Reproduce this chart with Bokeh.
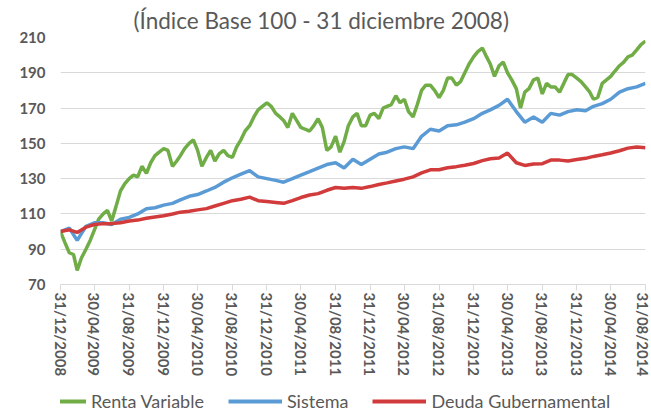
import pandas as pd
from bokeh.plotting import figure
from bokeh.layouts import column
from bokeh.models import (FixedTicker, DatetimeTickFormatter, Legend, LegendItem,
                          Range1d)
from bokeh.embed import file_html
from bokeh.resources import INLINE

# ---------------- data ----------------
base_date = "2008-12-31"
end_date = "2014-08-31"
subtitle = "(Índice Base 100 - 31 diciembre 2008)"

tick_dates = ["2008-12-31", "2009-04-30", "2009-08-31", "2009-12-31",
              "2010-04-30", "2010-08-31", "2010-12-31", "2011-04-30",
              "2011-08-31", "2011-12-31", "2012-04-30", "2012-08-31",
              "2012-12-31", "2013-04-30", "2013-08-31", "2013-12-31",
              "2014-04-30", "2014-08-31"]
y_ticks = [70, 90, 110, 130, 150, 170, 190, 210]

# Renta Variable: observations on the 15th and last day of each month
renta_variable = [100, 94, 88, 87, 78, 85, 90, 95, 101, 107, 110, 112, 106, 114,
                  123, 127, 130, 132, 131, 137, 133, 139, 143, 145, 147, 146, 137,
                  140, 143, 147, 150, 152, 146, 137, 142, 146, 140, 144, 146, 143,
                  142, 148, 152, 157, 160, 165, 169, 171, 173, 171, 167, 165, 163,
                  159, 167, 163, 159, 158, 157, 160, 164, 159, 146, 148, 154, 145,
                  151, 160, 165, 167, 160, 160, 166, 167, 164, 170, 171, 172, 177,
                  173, 175, 168, 165, 172, 180, 183, 183, 180, 176, 180, 187, 187,
                  183, 185, 190, 195, 199, 202, 204, 199, 195, 188, 194, 196, 190,
                  186, 181, 170, 179, 181, 186, 187, 178, 184, 182, 182, 179, 184,
                  189, 189, 187, 185, 182, 179, 175, 176, 184, 186, 188, 191, 194,
                  196, 199, 200, 203, 206, 208]

# Sistema and Deuda Gubernamental: month-end observations
sistema = [100, 102, 95, 103, 105, 105, 104, 107, 108, 110, 113, 113.5, 115, 116,
           118, 120, 121, 123, 125, 128, 130.5, 132.5, 134.5, 131, 130, 129, 128,
           130, 132, 134, 136, 138, 139, 136, 141, 138, 141, 144, 145, 147, 148,
           147, 154, 158, 157, 160, 160.5, 162, 164, 167, 169, 171.5, 175, 168,
           162, 165, 162, 167, 166, 168, 169, 168.5, 171, 172.5, 175, 179, 181,
           182, 184]

deuda_gubernamental = [100, 101, 99.5, 102.5, 104, 104.5, 104.5, 105, 106, 106.5,
                       107.5, 108.3, 109, 110, 111, 111.5, 112.3, 113, 114.5, 116,
                       117.5, 118.3, 119.5, 117.5, 117, 116.5, 116, 117.5, 119.3,
                       120.7, 121.5, 123.4, 125, 124.5, 125, 124.5, 125.5, 126.7,
                       127.6, 128.7, 129.7, 131, 133.3, 135, 135, 136.2, 136.8,
                       137.6, 138.6, 140.2, 141.3, 141.7, 144.5, 139, 137.5, 138.3,
                       138.5, 140.5, 140.5, 140, 140.8, 141.5, 142.6, 143.5, 144.5,
                       145.8, 147.3, 147.9, 147.5]

series_names = ["Renta Variable", "Sistema", "Deuda Gubernamental"]
colors = ["#70AD47", "#5B9BD5", "#D13B3B"]

# ---------------- dates ----------------
start = pd.Timestamp(base_date)
month_ends = [start]
half_dates = [start]
cur = start
while cur < pd.Timestamp(end_date):
    first = cur + pd.Timedelta(days=1)
    mid = first + pd.Timedelta(days=14)
    me = first + pd.offsets.MonthEnd(0)
    half_dates.append(mid)
    half_dates.append(me)
    month_ends.append(me)
    cur = me

# ---------------- main figure ----------------
p = figure(width=651, height=390, x_axis_type="datetime",
           output_backend="svg", toolbar_location=None,
           x_range=Range1d(pd.Timestamp(base_date), pd.Timestamp(end_date)),
           y_range=Range1d(70, 210),
           min_border_left=60, min_border_right=6,
           min_border_top=35, min_border_bottom=106)
p.outline_line_color = None
p.background_fill_color = "white"
p.border_fill_color = "white"

p.title.text = subtitle
p.title.align = "left"
p.title.offset = 73
p.title.standoff = 8
p.title.text_font = "Lato"
p.title.text_font_size = "22.5px"
p.title.text_font_style = "normal"
p.title.text_color = "#595959"

p.xgrid.visible = False
p.ygrid.grid_line_color = "#D9D9D9"
p.ygrid.grid_line_width = 1

line_kw = dict(line_width=3.5)
r1 = p.line(half_dates, renta_variable, line_color=colors[0], **line_kw)
r2 = p.line(month_ends, sistema, line_color=colors[1], **line_kw)
r3 = p.line(month_ends, deuda_gubernamental, line_color=colors[2], **line_kw)

# y axis
p.yaxis.ticker = FixedTicker(ticks=y_ticks)
p.yaxis.axis_line_color = None
p.yaxis.major_tick_line_color = None
p.yaxis.minor_tick_line_color = None
p.yaxis.major_label_text_font = "Lato"
p.yaxis.major_label_text_font_size = "15px"
p.yaxis.major_label_text_font_style = "bold"
p.yaxis.major_label_text_color = "#595959"
p.yaxis.major_label_standoff = 9

# x axis
tick_ms = [pd.Timestamp(d).value / 1e6 for d in tick_dates]
p.xaxis.ticker = FixedTicker(ticks=tick_ms)
fmt = "%d/%m/%Y"
p.xaxis.formatter = DatetimeTickFormatter(days=fmt, months=fmt, years=fmt,
                                          hours=fmt, hourmin=fmt, minutes=fmt,
                                          minsec=fmt, seconds=fmt,
                                          milliseconds=fmt, microseconds=fmt)
p.xaxis.major_label_orientation = "vertical"
p.xaxis.axis_line_color = "#D9D9D9"
p.xaxis.major_tick_line_color = "#D9D9D9"
p.xaxis.major_tick_in = 0
p.xaxis.major_tick_out = 6
p.xaxis.minor_tick_line_color = None
p.xaxis.major_label_text_font = "Lato"
p.xaxis.major_label_text_font_size = "15px"
p.xaxis.major_label_text_font_style = "bold"
p.xaxis.major_label_text_color = "#595959"
p.xaxis.major_label_standoff = 2

# ---------------- legend strip ----------------
lg = figure(width=651, height=24, output_backend="svg", toolbar_location=None,
            x_range=Range1d(0, 1), y_range=Range1d(0, 1),
            x_axis_location=None, y_axis_location=None,
            min_border_left=0, min_border_right=0,
            min_border_top=0, min_border_bottom=0)
lg.outline_line_color = None
lg.xgrid.visible = False
lg.ygrid.visible = False
# legend-only renderers, placed outside the strip's visible range
d1 = lg.line([5, 6], [5, 6], line_color=colors[0], line_width=4)
d2 = lg.line([5, 6], [5, 6], line_color=colors[1], line_width=4)
d3 = lg.line([5, 6], [5, 6], line_color=colors[2], line_width=4)

legend = Legend(items=[LegendItem(label=series_names[0], renderers=[d1]),
                       LegendItem(label=series_names[1], renderers=[d2]),
                       LegendItem(label=series_names[2], renderers=[d3])],
                orientation="horizontal", location=(-28, 2),
                glyph_width=54, glyph_height=18, label_standoff=5,
                spacing=24, padding=0, margin=0,
                border_line_color=None, background_fill_alpha=0,
                label_text_font="Lato", label_text_font_size="18px",
                label_text_color="#595959")
lg.add_layout(legend, "center")

layout = column(p, lg, spacing=0)
open("out.html", "w").write(file_html(layout, INLINE))
